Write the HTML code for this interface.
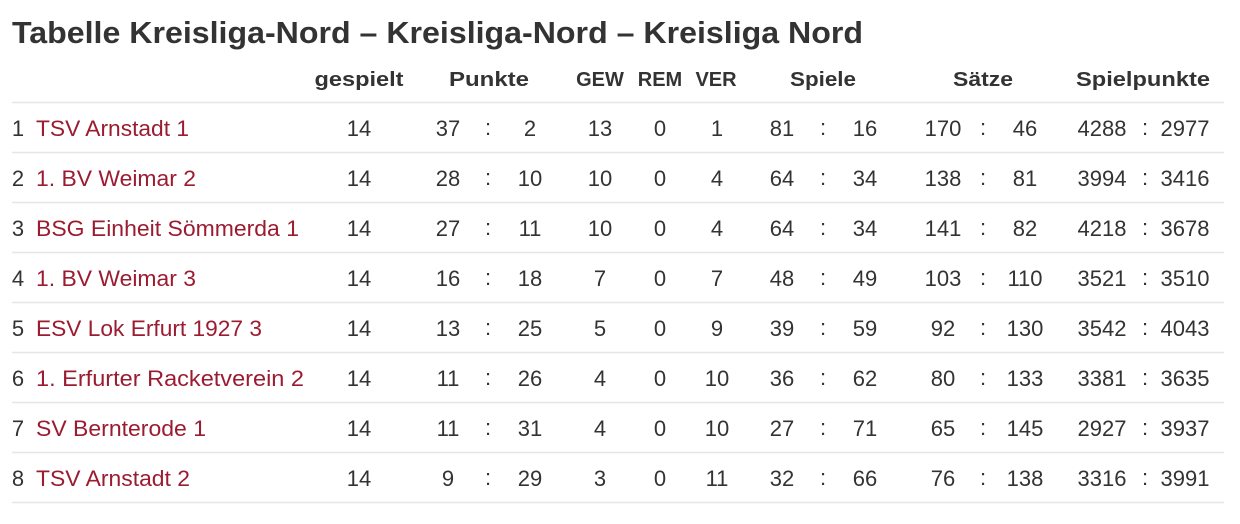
<!DOCTYPE html>
<html><head><meta charset="utf-8"><style>
html,body{margin:0;padding:0;background:#fff;width:1240px;height:524px;overflow:hidden}
svg text{font-family:"Liberation Sans","DejaVu Sans",sans-serif}
</style></head><body>
<svg width="1240" height="524" xmlns="http://www.w3.org/2000/svg">
<text x="12" y="43" font-size="31" font-weight="bold" fill="#333" textLength="851" lengthAdjust="spacingAndGlyphs">Tabelle Kreisliga-Nord – Kreisliga-Nord – Kreisliga Nord</text>
<g font-size="20" font-weight="bold" fill="#333" text-anchor="middle">
<text x="359" y="86" textLength="89" lengthAdjust="spacingAndGlyphs">gespielt</text>
<text x="489" y="86" textLength="80" lengthAdjust="spacingAndGlyphs">Punkte</text>
<text x="600" y="86">GEW</text>
<text x="660" y="86">REM</text>
<text x="716" y="86">VER</text>
<text x="823" y="86" textLength="66" lengthAdjust="spacingAndGlyphs">Spiele</text>
<text x="983" y="86" textLength="60" lengthAdjust="spacingAndGlyphs">Sätze</text>
<text x="1143" y="86" textLength="134" lengthAdjust="spacingAndGlyphs">Spielpunkte</text>
</g>
<g stroke="#e6e6e6" stroke-width="1.5">
<line x1="12" x2="1224" y1="102.5" y2="102.5"/><line x1="12" x2="1224" y1="152.5" y2="152.5"/>
<line x1="12" x2="1224" y1="202.5" y2="202.5"/><line x1="12" x2="1224" y1="252.5" y2="252.5"/>
<line x1="12" x2="1224" y1="302.5" y2="302.5"/><line x1="12" x2="1224" y1="352.5" y2="352.5"/>
<line x1="12" x2="1224" y1="402.5" y2="402.5"/><line x1="12" x2="1224" y1="452.5" y2="452.5"/>
<line x1="12" x2="1224" y1="502.5" y2="502.5"/>
</g>
<g id="rows" font-size="22" fill="#333" text-anchor="middle"></g>
</svg>
<script>
var d=[
["TSV Arnstadt 1",153,14,37,2,13,0,1,81,16,170,46,4288,2977],
["1. BV Weimar 2",160,14,28,10,10,0,4,64,34,138,81,3994,3416],
["BSG Einheit Sömmerda 1",263,14,27,11,10,0,4,64,34,141,82,4218,3678],
["1. BV Weimar 3",160,14,16,18,7,0,7,48,49,103,110,3521,3510],
["ESV Lok Erfurt 1927 3",226,14,13,25,5,0,9,39,59,92,130,3542,4043],
["1. Erfurter Racketverein 2",268,14,11,26,4,0,10,36,62,80,133,3381,3635],
["SV Bernterode 1",170,14,11,31,4,0,10,27,71,65,145,2927,3937],
["TSV Arnstadt 2",154,14,9,29,3,0,11,32,66,76,138,3316,3991]];
var xs=[359,448,530,600,660,717,782,865,943,1025,1102,1185];
var colons=[488,823,983,1145];
var s="";
d.forEach(function(r,i){
 var y=136+50*i;
 s+='<text x="18" y="'+y+'">'+(i+1)+'</text>';
 s+='<text x="36" y="'+y+'" text-anchor="start" fill="#9b1c31" textLength="'+r[1]+'" lengthAdjust="spacingAndGlyphs">'+r[0]+'</text>';
 for(var k=0;k<12;k++) s+='<text x="'+xs[k]+'" y="'+y+'">'+r[k+2]+'</text>';
 colons.forEach(function(c){s+='<text x="'+c+'" y="'+(y-1)+'">:</text>';});
});
document.getElementById("rows").innerHTML=s;
</script>
</body></html>
